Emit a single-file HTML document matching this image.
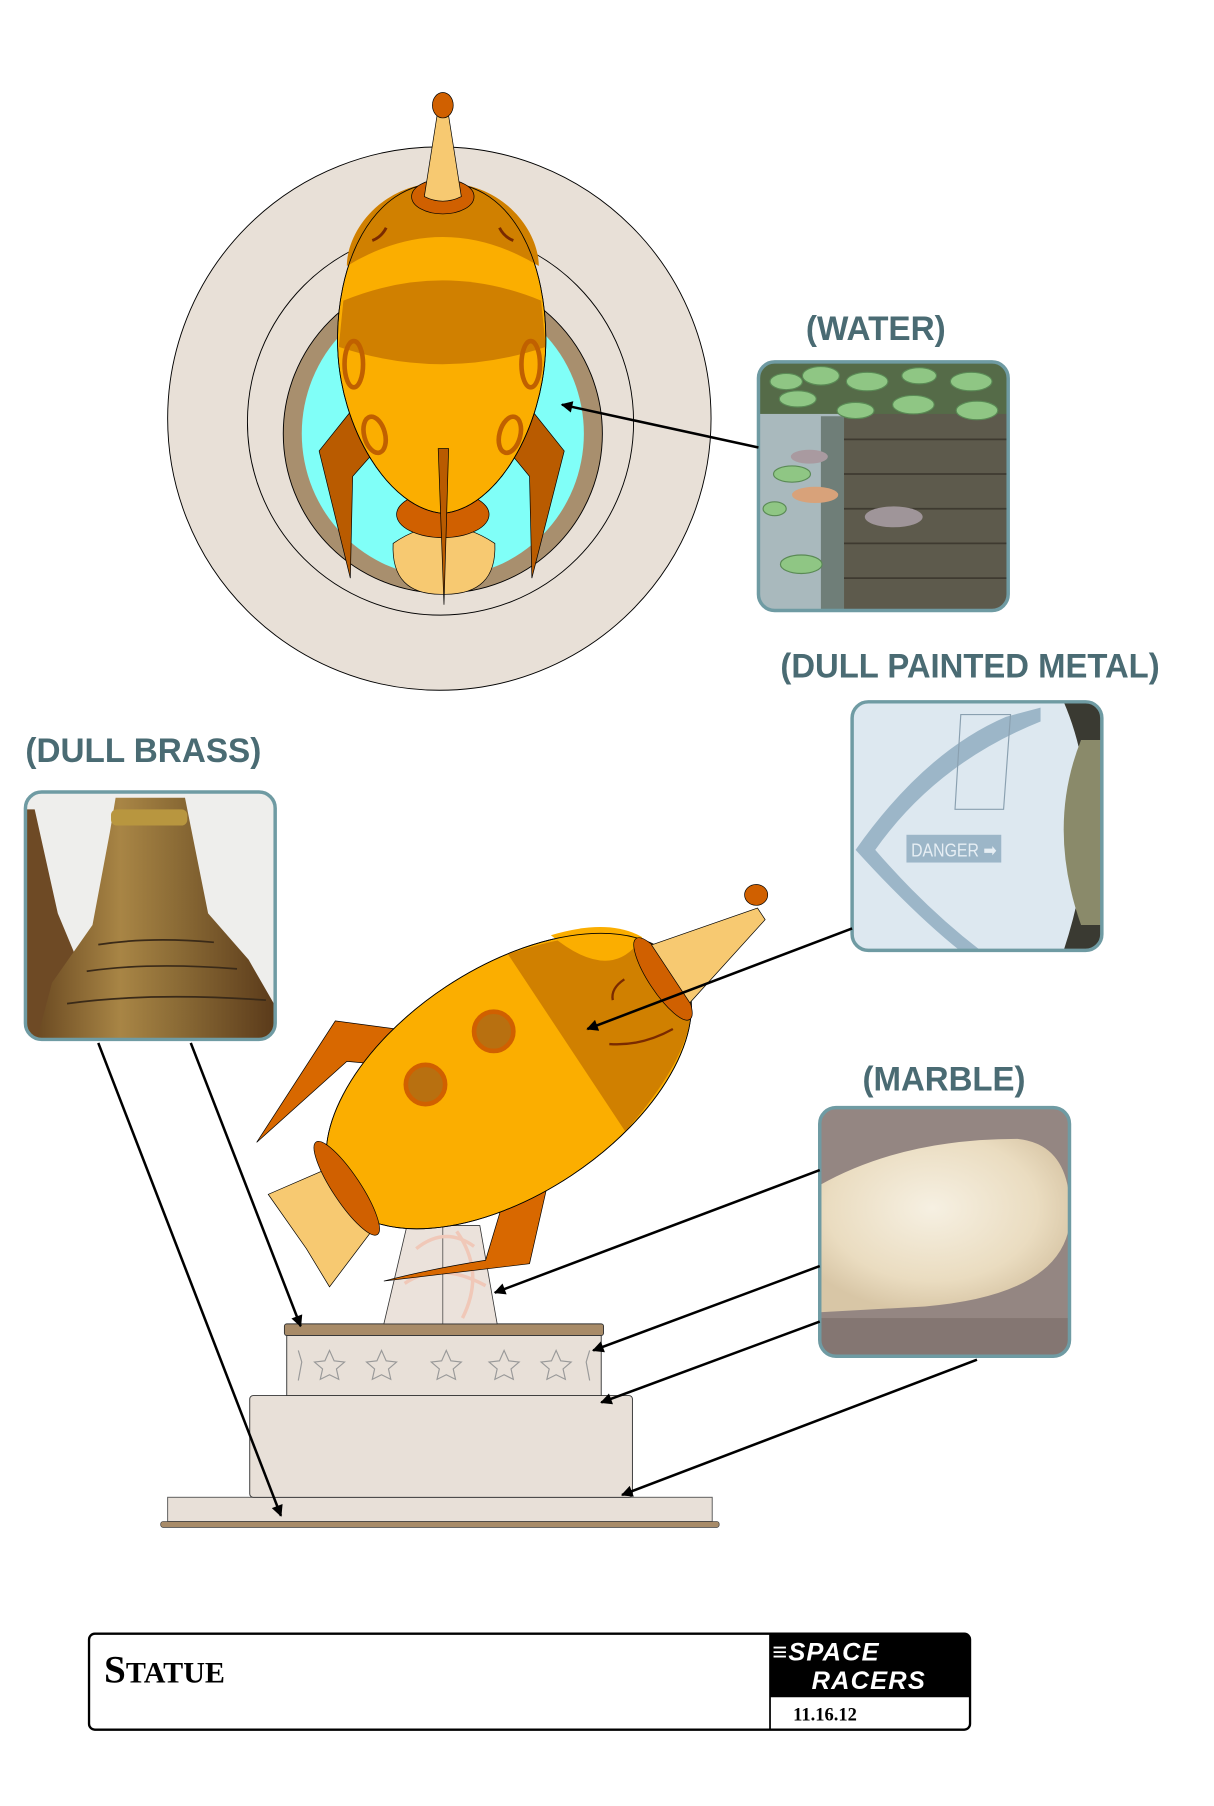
<!DOCTYPE html>
<html><head><meta charset="utf-8"><style>
html,body{margin:0;padding:0;background:#fff;}
svg{display:block;}
.lb{font-family:"Liberation Sans",sans-serif;font-weight:bold;fill:#4a6b73;}
</style></head><body>
<svg width="1214" height="1806" viewBox="0 0 1050 1562" xmlns="http://www.w3.org/2000/svg">
<defs>
<marker id="ah2" viewBox="0 0 10 10" refX="9" refY="5" markerWidth="14" markerHeight="10" orient="auto" markerUnits="userSpaceOnUse"><path d="M0,0 L10,5 L0,10 z" fill="#000"/></marker>
<clipPath id="cw"><rect x="656" y="313" width="216" height="215" rx="14"/></clipPath>
<clipPath id="cm"><rect x="737" y="607" width="216" height="215" rx="14"/></clipPath>
<clipPath id="cb"><rect x="22" y="685" width="216" height="214" rx="14"/></clipPath>
<clipPath id="cr"><rect x="709" y="958" width="216" height="215" rx="14"/></clipPath>
<linearGradient id="brass" x1="0" x2="1"><stop offset="0" stop-color="#6b4a22"/><stop offset="0.35" stop-color="#a88545"/><stop offset="0.6" stop-color="#8a6a35"/><stop offset="1" stop-color="#5a3a1a"/></linearGradient>
<radialGradient id="marb" cx="0.45" cy="0.4" r="0.6"><stop offset="0" stop-color="#f6f0e2"/><stop offset="0.7" stop-color="#eadcc0"/><stop offset="1" stop-color="#d8c6a6"/></radialGradient>
</defs>

<!-- top view -->
<circle cx="380" cy="362" r="235" fill="#e8e0d7" stroke="#000" stroke-width="0.8"/>
<circle cx="381" cy="365" r="167" fill="#e8e0d7" stroke="#000" stroke-width="0.8"/>
<circle cx="383" cy="375" r="138" fill="#a88f6e" stroke="#000" stroke-width="0.8"/>
<ellipse cx="383" cy="375" rx="122" ry="124" fill="#80fff8"/>
<path d="M312,345 L276,390 L303,500 L305,412 L320,395 Z" fill="#b95b00" stroke="#000" stroke-width="0.6"/>
<path d="M452,345 L488,390 L460,500 L458,412 L444,395 Z" fill="#b95b00" stroke="#000" stroke-width="0.6"/>
<path d="M340,470 Q338,515 383,514 Q430,515 428,470 Q383,440 340,470Z" fill="#f7c971" stroke="#000" stroke-width="0.6"/>
<ellipse cx="383" cy="445" rx="40" ry="20" fill="#d06000" stroke="#000" stroke-width="0.6"/>
<path d="M383,158 C445,158 474,230 472,300 C470,370 430,440 383,444 C336,440 294,370 292,300 C290,230 320,158 383,158Z" fill="#fbae00" stroke="#000" stroke-width="0.7"/>
<path d="M383,158 C330,158 300,200 300,230 Q383,180 466,230 C466,200 436,158 383,158Z" fill="#d08000"/>
<path d="M297,260 Q383,225 468,260 L472,300 Q383,330 293,300 Z" fill="#d08000"/>
<path d="M383,158 C445,158 474,230 472,300 C470,370 430,440 383,444 C336,440 294,370 292,300 C290,230 320,158 383,158Z" fill="none" stroke="#000" stroke-width="0.7"/>
<path d="M334,197 Q330,205 322,208" stroke="#7a2a00" stroke-width="2.5" fill="none"/>
<path d="M432,197 Q436,205 444,208" stroke="#7a2a00" stroke-width="2.5" fill="none"/>
<ellipse cx="306" cy="315" rx="8" ry="20" fill="none" stroke="#c06000" stroke-width="4"/>
<ellipse cx="459" cy="315" rx="8" ry="20" fill="none" stroke="#c06000" stroke-width="4"/>
<ellipse cx="324" cy="376" rx="9" ry="16" transform="rotate(-15 324 376)" fill="none" stroke="#c06000" stroke-width="4"/>
<ellipse cx="441" cy="376" rx="9" ry="16" transform="rotate(15 441 376)" fill="none" stroke="#c06000" stroke-width="4"/>
<path d="M379,388 L388,388 L384,523 Z" fill="#b95b00" stroke="#000" stroke-width="0.6"/>
<ellipse cx="383" cy="170" rx="27" ry="15" fill="#d06000" stroke="#000" stroke-width="0.6"/>
<path d="M367,170 L378,100 L388,100 L399,170 Q383,178 367,170Z" fill="#f7c971" stroke="#000" stroke-width="0.6"/>
<ellipse cx="383" cy="91" rx="9" ry="11" fill="#d06000" stroke="#000" stroke-width="0.6"/>

<!-- labels -->
<text class="lb" x="697" y="294" font-size="30" textLength="121" lengthAdjust="spacingAndGlyphs">(WATER)</text>
<text class="lb" x="675" y="586" font-size="30" textLength="328" lengthAdjust="spacingAndGlyphs">(DULL PAINTED METAL)</text>
<text class="lb" x="22" y="659" font-size="30" textLength="204" lengthAdjust="spacingAndGlyphs">(DULL BRASS)</text>
<text class="lb" x="746" y="943" font-size="30" textLength="141" lengthAdjust="spacingAndGlyphs">(MARBLE)</text>

<!-- water photo -->
<g clip-path="url(#cw)">
<rect x="656" y="313" width="216" height="215" fill="#a9b9bd"/>
<rect x="710" y="360" width="20" height="170" fill="#6f7e78"/>
<rect x="730" y="350" width="142" height="180" fill="#5d5a4c"/>
<g stroke="#3e3a30" stroke-width="1.5"><path d="M730,380 H872 M730,410 H872 M730,440 H872 M730,470 H872 M730,500 H872"/></g>
<rect x="656" y="313" width="216" height="45" fill="#556b48"/>
<g fill="#8fc684" stroke="#5a8a55" stroke-width="1">
<ellipse cx="680" cy="330" rx="14" ry="7"/><ellipse cx="710" cy="325" rx="16" ry="8"/><ellipse cx="750" cy="330" rx="18" ry="8"/><ellipse cx="795" cy="325" rx="15" ry="7"/><ellipse cx="840" cy="330" rx="18" ry="8"/><ellipse cx="690" cy="345" rx="16" ry="7"/><ellipse cx="740" cy="355" rx="16" ry="7"/><ellipse cx="790" cy="350" rx="18" ry="8"/><ellipse cx="845" cy="355" rx="18" ry="8"/><ellipse cx="685" cy="410" rx="16" ry="7"/><ellipse cx="693" cy="488" rx="18" ry="8"/><ellipse cx="670" cy="440" rx="10" ry="6"/></g>
<ellipse cx="700" cy="395" rx="16" ry="6" fill="#a99aa0"/><ellipse cx="705" cy="428" rx="20" ry="7" fill="#d8a27a"/><ellipse cx="773" cy="447" rx="25" ry="9" fill="#9f9599"/>
</g>
<rect x="656" y="313" width="216" height="215" rx="14" fill="none" stroke="#6f9ba3" stroke-width="3"/>

<!-- metal photo -->
<g clip-path="url(#cm)">
<rect x="737" y="607" width="216" height="215" fill="#dde8f0"/>
<path d="M920,607 Q960,700 920,822 L953,822 L953,607Z" fill="#3a3a32"/>
<path d="M935,640 Q905,715 935,800 L953,800 L953,640Z" fill="#8a8a6a"/>
<path d="M900,612 L870,620 Q800,650 740,735 Q790,790 830,822 L848,822 Q800,785 757,735 Q810,660 900,624Z" fill="#9cb6c8"/>
<rect x="784" y="722" width="82" height="24" fill="#9cb6c8"/>
<text x="788" y="741" font-family="Liberation Sans,sans-serif" font-size="16" fill="#e6eef4" textLength="74" lengthAdjust="spacingAndGlyphs">DANGER ➡</text>
<path d="M831,618 L874,618 L868,700 L826,700Z" fill="none" stroke="#8aa0b0" stroke-width="1"/>
</g>
<rect x="737" y="607" width="216" height="215" rx="14" fill="none" stroke="#6f9ba3" stroke-width="3"/>

<!-- brass photo -->
<g clip-path="url(#cb)">
<rect x="22" y="685" width="216" height="214" fill="#eeeeec"/>
<path d="M22,700 L30,700 L50,790 L75,850 L70,899 L22,899Z" fill="#6e4a25"/>
<path d="M100,690 L160,690 L165,715 L180,790 L215,830 L238,870 L238,899 L32,899 L45,850 L80,800 L95,720Z" fill="url(#brass)"/>
<rect x="96" y="700" width="66" height="14" rx="5" fill="#b8963f"/>
<g stroke="#3a2a18" stroke-width="1.5" fill="none"><path d="M85,817 Q130,810 185,815"/><path d="M75,840 Q130,832 205,838"/><path d="M58,868 Q130,858 230,865"/></g>
</g>
<rect x="22" y="685" width="216" height="214" rx="14" fill="none" stroke="#6f9ba3" stroke-width="3"/>

<!-- marble photo -->
<g clip-path="url(#cr)">
<rect x="709" y="958" width="216" height="215" fill="#948682"/>
<path d="M709,1025 Q780,985 880,985 Q930,990 925,1060 Q915,1120 800,1130 L709,1135Z" fill="url(#marb)"/>
<rect x="709" y="1140" width="216" height="33" fill="#847672"/>
</g>
<rect x="709" y="958" width="216" height="215" rx="14" fill="none" stroke="#6f9ba3" stroke-width="3"/>

<!-- base -->
<rect x="145" y="1295" width="471" height="21" fill="#e8e0d8" stroke="#555" stroke-width="0.8"/>
<rect x="139" y="1316" width="483" height="5" rx="2" fill="#a88b68" stroke="#333" stroke-width="0.6"/>
<rect x="216" y="1207" width="331" height="88" rx="3" fill="#e8e0d8" stroke="#333" stroke-width="0.8"/>
<rect x="248" y="1155" width="272" height="52" fill="#e8e0d8" stroke="#333" stroke-width="0.8"/>
<g fill="none" stroke="#999" stroke-width="1">
<path d="M285,1168 l4,9 9,1 -7,6 2,9 -8,-4 -8,4 2,-9 -7,-6 9,-1z"/>
<path d="M330,1168 l4,9 9,1 -7,6 2,9 -8,-4 -8,4 2,-9 -7,-6 9,-1z"/>
<path d="M386,1168 l4,9 9,1 -7,6 2,9 -8,-4 -8,4 2,-9 -7,-6 9,-1z"/>
<path d="M436,1168 l4,9 9,1 -7,6 2,9 -8,-4 -8,4 2,-9 -7,-6 9,-1z"/>
<path d="M481,1168 l4,9 9,1 -7,6 2,9 -8,-4 -8,4 2,-9 -7,-6 9,-1z"/>
<path d="M258,1168 l3,10 -3,16 M510,1168 l-3,10 3,16"/>
</g>
<rect x="246" y="1145" width="276" height="10" rx="2" fill="#a88b68" stroke="#333" stroke-width="0.8"/>
<path d="M332,1145 L352,1060 L415,1060 L430,1145Z" fill="#ebe2db" stroke="#333" stroke-width="0.7"/>
<line x1="383" y1="1060" x2="383" y2="1145" stroke="#333" stroke-width="0.6"/>
<path d="M360,1080 Q385,1060 410,1078 M350,1110 Q380,1090 420,1112 M395,1065 Q420,1100 400,1140" stroke="#f0c8b8" stroke-width="3" fill="none"/>

<!-- side rocket -->
<path d="M358,892 L290,883 L222,988 L300,918 L345,922 Z" fill="#d86800" stroke="#000" stroke-width="0.6"/>
<path d="M438,1030 L475,1018 L458,1093 L332,1108 Q370,1098 420,1090Z" fill="#d86800" stroke="#000" stroke-width="0.6"/>
<path d="M265,1080 L232,1033 L285,1010 L325,1060 L285,1113Z" fill="#f7c971" stroke="#000" stroke-width="0.6"/>
<g transform="translate(440,935) rotate(-33.5)">
<ellipse cx="0" cy="0" rx="178" ry="98" fill="#fbae00" stroke="#000" stroke-width="0.7"/>
<path d="M60,-92 Q178,-60 178,0 Q178,60 60,92 Z" fill="#d08000"/>
<path d="M100,-85 Q150,-70 165,-40 Q120,-20 100,-85Z" fill="#fbae00"/>
<ellipse cx="0" cy="0" rx="178" ry="98" fill="none" stroke="#000" stroke-width="0.7"/>
<ellipse cx="160" cy="0" rx="12" ry="42" fill="#d06000" stroke="#000" stroke-width="0.6"/>
<path d="M168,-30 L262,-6 L262,6 L168,30Z" fill="#f7c971" stroke="#000" stroke-width="0.6"/>
<ellipse cx="-168" cy="0" rx="12" ry="48" fill="#d06000" stroke="#000" stroke-width="0.6"/>
</g>
<ellipse cx="654" cy="774" rx="10" ry="9" fill="#d06000" stroke="#000" stroke-width="0.6"/>
<circle cx="427" cy="892" r="17" fill="#b87010" stroke="#d06000" stroke-width="4"/>
<circle cx="368" cy="938" r="17" fill="#b87010" stroke="#d06000" stroke-width="4"/>
<path d="M540,847 Q528,855 530,865" stroke="#7a2a00" stroke-width="2" fill="none"/>
<path d="M527,903 Q555,905 582,890" stroke="#7a2a00" stroke-width="2" fill="none"/>

<!-- arrows -->
<g stroke="#000" stroke-width="2.2" fill="none">
<line x1="656" y1="387" x2="486" y2="350" marker-end="url(#ah2)"/>
<line x1="737" y1="803" x2="508" y2="890" marker-end="url(#ah2)"/>
<line x1="85" y1="902" x2="243" y2="1311" marker-end="url(#ah2)"/>
<line x1="165" y1="902" x2="260" y2="1147" marker-end="url(#ah2)"/>
<line x1="709" y1="1012" x2="428" y2="1118" marker-end="url(#ah2)"/>
<line x1="709" y1="1095" x2="513" y2="1168" marker-end="url(#ah2)"/>
<line x1="709" y1="1143" x2="520" y2="1213" marker-end="url(#ah2)"/>
<line x1="845" y1="1176" x2="538" y2="1293" marker-end="url(#ah2)"/>
</g>

<!-- title block -->
<rect x="77" y="1413" width="762" height="83" rx="5" fill="#fff" stroke="#000" stroke-width="2"/>
<line x1="666" y1="1413" x2="666" y2="1496" stroke="#000" stroke-width="1.5"/>
<path d="M666,1413 L834,1413 Q839,1413 839,1418 L839,1468 L666,1468Z" fill="#000"/>
<text x="90" y="1455" font-family="Liberation Serif,serif" font-weight="bold" font-size="34" fill="#000">S<tspan font-size="26">TATUE</tspan></text>
<text x="668" y="1436" font-family="Liberation Sans,sans-serif" font-style="italic" font-weight="bold" font-size="22" fill="#fff" letter-spacing="1">≡SPACE</text>
<text x="702" y="1461" font-family="Liberation Sans,sans-serif" font-style="italic" font-weight="bold" font-size="22" fill="#fff" letter-spacing="1">RACERS</text>
<text x="686" y="1488" font-family="Liberation Serif,serif" font-weight="bold" font-size="16" fill="#000">11.16.12</text>
</svg>
</body></html>
